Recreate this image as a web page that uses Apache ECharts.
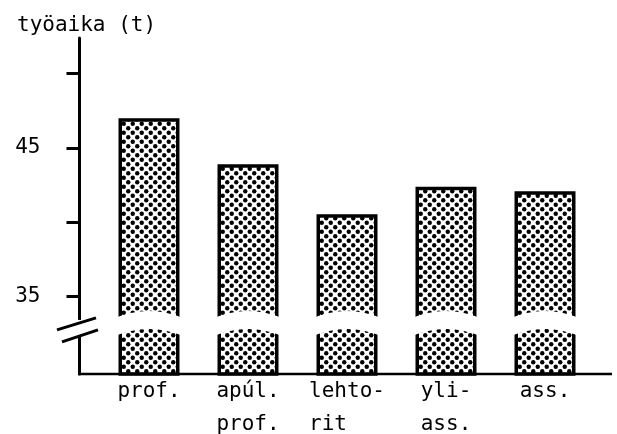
<!DOCTYPE html>
<html>
<head>
<meta charset="utf-8">
<script src="https://cdn.jsdelivr.net/npm/echarts@6/dist/echarts.min.js"></script>
<style>
html,body{margin:0;padding:0;background:#fff;}
#chart{width:617px;height:434px;}
</style>
</head>
<body>
<div id="chart"></div>
<script>
// ---- data ----
var categories = ['prof.', 'apúl.\nprof.', 'lehto-\nrit\u00a0\u00a0\u00a0', 'yli-\nass.', 'ass.'];
var hours = [47.0, 43.9, 40.55, 42.4, 42.1];
var yTickValues = [35, 40, 45, 50];
var yLabelValues = [35, 45];
var yAxisTitle = 'työaika (t)';
var BREAK_VALUE = 32.9;
var Y_MIN = 29.8, Y_MAX = 52.4;

// ---- style ----
var FONT = 'DejaVu Sans Mono';
var GRID_LEFT = 99.5, Y_OFFSET = 20;

function makePattern() {
  var s = 9;
  var c = document.createElement('canvas');
  c.width = s; c.height = s;
  var g = c.getContext('2d');
  g.fillStyle = '#fff'; g.fillRect(0, 0, s, s);
  g.fillStyle = '#000';
  [[s / 4, s / 4], [3 * s / 4, 3 * s / 4]].forEach(function (p) {
    g.beginPath(); g.arc(p[0], p[1], 2.2, 0, Math.PI * 2); g.fill();
  });
  return c;
}

var chart = echarts.init(document.getElementById('chart'), null, {renderer: 'canvas'});

var option = {
  backgroundColor: '#fff',
  animation: false,
  title: {
    text: yAxisTitle, left: 12, top: 10,
    textStyle: {fontFamily: FONT, fontSize: 21, fontWeight: 'normal', color: '#000'}
  },
  grid: {left: GRID_LEFT, right: 22.5, top: 38, bottom: 60, containLabel: false, outerBoundsMode: 'none'},
  xAxis: {
    type: 'category',
    data: categories,
    axisLine: {show: false},
    axisTick: {show: false},
    axisLabel: {
      color: '#000', fontFamily: FONT, fontSize: 21, lineHeight: 33, margin: 1,
      interval: 0
    }
  },
  yAxis: {
    type: 'value',
    min: Y_MIN, max: Y_MAX,
    offset: Y_OFFSET,
    splitLine: {show: false},
    axisLine: {show: true, lineStyle: {color: '#000', width: 3}},
    axisTick: {show: true, length: 13, customValues: yTickValues, lineStyle: {color: '#000', width: 3}},
    axisLabel: {color: '#000', fontFamily: FONT, fontSize: 21, margin: 39, customValues: yLabelValues}
  },
  series: [
    {
      type: 'bar',
      data: hours,
      barWidth: 61,
      itemStyle: {
        color: {image: makePattern(), repeat: 'repeat'},
        borderColor: '#000',
        borderWidth: 3.5
      },
      z: 2
    },
    {
      type: 'custom',
      z: 5,
      silent: true,
      data: categories.map(function (c, i) { return [i, BREAK_VALUE]; }),
      renderItem: function (params, api) {
        var p = api.coord([api.value(0), api.value(1)]);
        var w = 72;
        var x0 = p[0] - w / 2, x1 = p[0] + w / 2, cy = p[1];
        var top = cy - 9, bot = cy + 9, arch = 16;
        var d = 'M' + x0 + ' ' + top +
          ' Q' + p[0] + ' ' + (top - arch) + ' ' + x1 + ' ' + top +
          ' L' + x1 + ' ' + bot +
          ' Q' + p[0] + ' ' + (bot - arch) + ' ' + x0 + ' ' + bot + ' Z';
        return {
          type: 'path',
          shape: {pathData: d},
          style: {fill: '#fff', stroke: null}
        };
      }
    }
  ]
};
chart.setOption(option);

// decorations: extended x axis line and y axis break marks
var cy = chart.convertToPixel({yAxisIndex: 0}, BREAK_VALUE);
var yBottom = chart.convertToPixel({yAxisIndex: 0}, Y_MIN);
var ax = GRID_LEFT - Y_OFFSET;
chart.setOption({
  graphic: [
    {type: 'line', z: 10, shape: {x1: ax - 1.5, y1: yBottom, x2: 612, y2: yBottom},
     style: {stroke: '#000', lineWidth: 2.5}},
    {type: 'rect', z: 10, shape: {x: ax - 4, y: cy - 8, width: 8, height: 16},
     style: {fill: '#fff'}},
    {type: 'line', z: 11, shape: {x1: 57, y1: cy + 2, x2: 96, y2: cy - 10},
     style: {stroke: '#000', lineWidth: 3}},
    {type: 'line', z: 11, shape: {x1: 62, y1: cy + 14, x2: 98, y2: cy + 2},
     style: {stroke: '#000', lineWidth: 3}}
  ]
});
</script>
</body>
</html>
